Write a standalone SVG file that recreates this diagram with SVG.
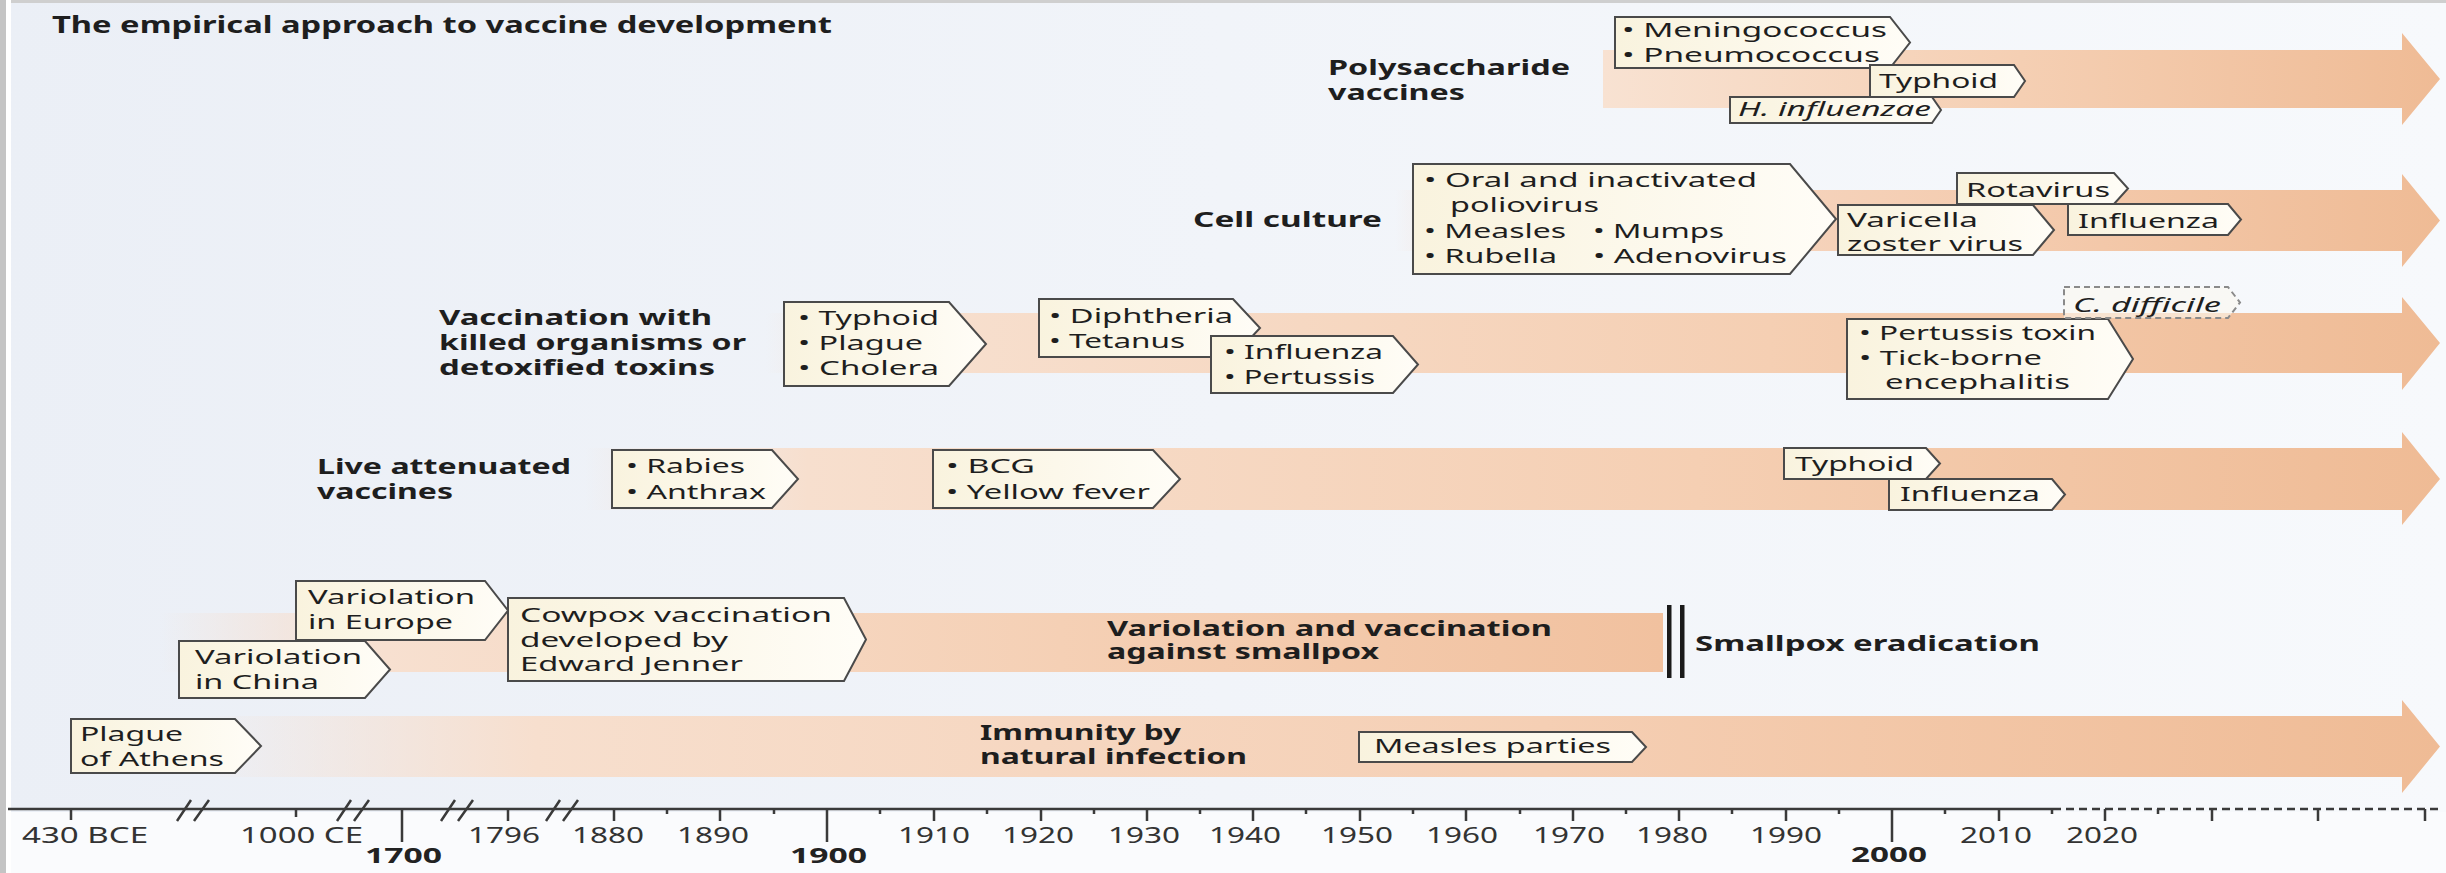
<svg xmlns="http://www.w3.org/2000/svg" width="2446" height="873" viewBox="0 0 2446 873">
<defs>
<linearGradient id="bg" x1="0" y1="0" x2="2446" y2="0" gradientUnits="userSpaceOnUse">
<stop offset="0" stop-color="#ebeff6"/><stop offset="1" stop-color="#f7f9fc"/>
</linearGradient>
<linearGradient id="boxg" x1="0" y1="0" x2="1" y2="0">
<stop offset="0" stop-color="#f9f3de"/><stop offset="1" stop-color="#fffdf7"/>
</linearGradient>
<linearGradient id="b1" x1="200" y1="0" x2="2440" y2="0" gradientUnits="userSpaceOnUse">
<stop offset="0" stop-color="#f6dccb" stop-opacity="0"/><stop offset="0.15" stop-color="#f7dfce"/><stop offset="0.6" stop-color="#f5cfb4"/><stop offset="1" stop-color="#efbb95"/>
</linearGradient>
<linearGradient id="b2" x1="160" y1="0" x2="1663" y2="0" gradientUnits="userSpaceOnUse">
<stop offset="0" stop-color="#f6dccb" stop-opacity="0"/><stop offset="0.15" stop-color="#f7e0d0"/><stop offset="0.6" stop-color="#f5d0b5"/><stop offset="1" stop-color="#f1c19f"/>
</linearGradient>
<linearGradient id="b3" x1="585" y1="0" x2="2440" y2="0" gradientUnits="userSpaceOnUse">
<stop offset="0" stop-color="#f6dccb" stop-opacity="0"/><stop offset="0.12" stop-color="#f7dfce"/><stop offset="0.6" stop-color="#f5cfb3"/><stop offset="1" stop-color="#efbb95"/>
</linearGradient>
<linearGradient id="b4" x1="766" y1="0" x2="2440" y2="0" gradientUnits="userSpaceOnUse">
<stop offset="0" stop-color="#f6dccb" stop-opacity="0"/><stop offset="0.1" stop-color="#f7dfce"/><stop offset="0.6" stop-color="#f5cfb3"/><stop offset="1" stop-color="#efbb95"/>
</linearGradient>
<linearGradient id="b5" x1="1395" y1="0" x2="2440" y2="0" gradientUnits="userSpaceOnUse">
<stop offset="0" stop-color="#f6dccb" stop-opacity="0"/><stop offset="0.12" stop-color="#f7dccb"/><stop offset="0.6" stop-color="#f4cbae"/><stop offset="1" stop-color="#efbb95"/>
</linearGradient>
<linearGradient id="b6" x1="1603" y1="0" x2="2440" y2="0" gradientUnits="userSpaceOnUse">
<stop offset="0" stop-color="#f8e2d2"/><stop offset="0.5" stop-color="#f5cfb3"/><stop offset="1" stop-color="#efbb95"/>
</linearGradient>
<style>
text{font-family:"Noto Sans","Open Sans","DejaVu Sans",sans-serif;fill:#1e1e1e}
.t{font-size:20px}
.b{font-size:21px;font-weight:bold}
.i{font-size:20px;font-style:italic}
.ax{font-size:21px;fill:#333}
.axb{font-size:21px;font-weight:bold;fill:#222}
.box{fill:url(#boxg);stroke:#4a4a4a;stroke-width:2}
.dbox{fill:#fbf8f0;fill-opacity:0.6;stroke:#8a8a8a;stroke-width:2;stroke-dasharray:6 4}
.axis{stroke:#3a3a3a;stroke-width:2.5;fill:none}
</style>
</defs>

<rect x="0" y="0" width="2446" height="873" fill="url(#bg)"/>
<rect x="0" y="812" width="2446" height="61" fill="#fafbfd"/>
<rect x="0" y="0" width="2446" height="3" fill="#cfcfcf"/>
<rect x="0" y="0" width="6" height="873" fill="#c4c4c4"/>
<rect x="6" y="0" width="5" height="873" fill="#ffffff"/>

<text x="52" y="33" font-size="23" font-weight="bold" textLength="780" lengthAdjust="spacingAndGlyphs">The empirical approach to vaccine development</text>

<g id="bands">
<path d="M1603 50 H2402 V33 L2440 79 L2402 125 V108 H1603 Z" fill="url(#b6)"/>
<path d="M1395 190 H2402 V174 L2440 220.5 L2402 267 V251 H1395 Z" fill="url(#b5)"/>
<path d="M766 313 H2402 V297 L2440 343 L2402 390 V373 H766 Z" fill="url(#b4)"/>
<path d="M585 448 H2402 V432 L2440 479 L2402 525 V510 H585 Z" fill="url(#b3)"/>
<path d="M160 613 H1663 V672 H160 Z" fill="url(#b2)"/>
<path d="M200 716 H2402 V700 L2440 746.5 L2402 793 V777 H200 Z" fill="url(#b1)"/>
<rect x="1667" y="605" width="4.5" height="73" fill="#1a1a1a"/>
<rect x="1680" y="605" width="4.5" height="73" fill="#1a1a1a"/>
</g>

<g id="row6">
<text class="b" x="1328" y="75" textLength="242" lengthAdjust="spacingAndGlyphs">Polysaccharide</text>
<text class="b" x="1328" y="100" textLength="137" lengthAdjust="spacingAndGlyphs">vaccines</text>
<g id="meningo">
<polygon class="box" points="1615,17 1890,17 1910,42.5 1890,68 1615,68"/>
<text class="t" x="1622" y="37" textLength="265" lengthAdjust="spacingAndGlyphs">• Meningococcus</text>
<text class="t" x="1622" y="62" textLength="258" lengthAdjust="spacingAndGlyphs">• Pneumococcus</text>
</g>
<g id="typhoid6">
<polygon class="box" points="1870,65 2014,65 2025,81 2014,97 1870,97"/>
<text class="t" x="1879" y="88" textLength="119" lengthAdjust="spacingAndGlyphs">Typhoid</text>
</g>
<g id="hinfl">
<polygon class="box" points="1730,97 1932,97 1941,110 1932,123 1730,123"/>
<text class="i" x="1738" y="116" textLength="193" lengthAdjust="spacingAndGlyphs">H. influenzae</text>
</g>
</g>

<g id="row5">
<text class="b" x="1193" y="227" textLength="189" lengthAdjust="spacingAndGlyphs">Cell culture</text>
<g id="oral">
<polygon class="box" points="1413,164 1790,164 1836,219 1790,274 1413,274"/>
<text class="t" x="1424" y="187" textLength="333" lengthAdjust="spacingAndGlyphs">• Oral and inactivated</text>
<text class="t" x="1450" y="212" textLength="149" lengthAdjust="spacingAndGlyphs">poliovirus</text>
<text class="t" x="1424" y="238" textLength="142" lengthAdjust="spacingAndGlyphs">• Measles</text>
<text class="t" x="1593" y="238" textLength="131" lengthAdjust="spacingAndGlyphs">• Mumps</text>
<text class="t" x="1424" y="263" textLength="133" lengthAdjust="spacingAndGlyphs">• Rubella</text>
<text class="t" x="1593" y="263" textLength="194" lengthAdjust="spacingAndGlyphs">• Adenovirus</text>
</g>
<g id="rotavirus">
<polygon class="box" points="1957,173 2114,173 2128,188.5 2114,204 1957,204"/>
<text class="t" x="1966" y="197" textLength="144" lengthAdjust="spacingAndGlyphs">Rotavirus</text>
</g>
<g id="varicella">
<polygon class="box" points="1838,205 2033,205 2054,230 2033,255 1838,255"/>
<text class="t" x="1847" y="227" textLength="131" lengthAdjust="spacingAndGlyphs">Varicella</text>
<text class="t" x="1847" y="251" textLength="176" lengthAdjust="spacingAndGlyphs">zoster virus</text>
</g>
<g id="influenza5">
<polygon class="box" points="2068,204 2228,204 2241,219.5 2228,235 2068,235"/>
<text class="t" x="2078" y="228" textLength="141" lengthAdjust="spacingAndGlyphs">Influenza</text>
</g>
</g>

<g id="row4">
<text class="b" x="439" y="325" textLength="273" lengthAdjust="spacingAndGlyphs">Vaccination with</text>
<text class="b" x="439" y="350" textLength="307" lengthAdjust="spacingAndGlyphs">killed organisms or</text>
<text class="b" x="439" y="375" textLength="276" lengthAdjust="spacingAndGlyphs">detoxified toxins</text>
<g id="typhoid4">
<polygon class="box" points="784,302 949,302 986,344 949,386 784,386"/>
<text class="t" x="798" y="325" textLength="141" lengthAdjust="spacingAndGlyphs">• Typhoid</text>
<text class="t" x="798" y="350" textLength="125" lengthAdjust="spacingAndGlyphs">• Plague</text>
<text class="t" x="798" y="375" textLength="141" lengthAdjust="spacingAndGlyphs">• Cholera</text>
</g>
<g id="diphtheria">
<polygon class="box" points="1039,299 1233,299 1260,328 1233,357 1039,357"/>
<text class="t" x="1049" y="323" textLength="184" lengthAdjust="spacingAndGlyphs">• Diphtheria</text>
<text class="t" x="1049" y="348" textLength="136" lengthAdjust="spacingAndGlyphs">• Tetanus</text>
</g>
<g id="influenza4">
<polygon class="box" points="1211,336 1393,336 1418,364.5 1393,393 1211,393"/>
<text class="t" x="1224" y="359" textLength="159" lengthAdjust="spacingAndGlyphs">• Influenza</text>
<text class="t" x="1224" y="384" textLength="151" lengthAdjust="spacingAndGlyphs">• Pertussis</text>
</g>
<g id="pertussistoxin">
<polygon class="box" points="1847,319 2108,319 2133,359 2108,399 1847,399"/>
<text class="t" x="1859" y="340" textLength="237" lengthAdjust="spacingAndGlyphs">• Pertussis toxin</text>
<text class="t" x="1859" y="365" textLength="183" lengthAdjust="spacingAndGlyphs">• Tick-borne</text>
<text class="t" x="1885" y="389" textLength="185" lengthAdjust="spacingAndGlyphs">encephalitis</text>
</g>
<g id="cdifficile">
<polygon class="dbox" points="2064,287 2228,287 2240,302.5 2228,318 2064,318"/>
<text class="i" x="2073" y="312" textLength="148" lengthAdjust="spacingAndGlyphs">C. difficile</text>
</g>
</g>

<g id="row3">
<text class="b" x="317" y="474" textLength="254" lengthAdjust="spacingAndGlyphs">Live attenuated</text>
<text class="b" x="317" y="499" textLength="136" lengthAdjust="spacingAndGlyphs">vaccines</text>
<g id="rabies">
<polygon class="box" points="612,450 772,450 798,479 772,508 612,508"/>
<text class="t" x="626" y="473" textLength="119" lengthAdjust="spacingAndGlyphs">• Rabies</text>
<text class="t" x="626" y="499" textLength="140" lengthAdjust="spacingAndGlyphs">• Anthrax</text>
</g>
<g id="bcg">
<polygon class="box" points="933,450 1153,450 1180,479 1153,508 933,508"/>
<text class="t" x="946" y="473" textLength="89" lengthAdjust="spacingAndGlyphs">• BCG</text>
<text class="t" x="946" y="499" textLength="204" lengthAdjust="spacingAndGlyphs">• Yellow fever</text>
</g>
<g id="typhoid3">
<polygon class="box" points="1784,448 1926,448 1940,463.5 1926,479 1784,479"/>
<text class="t" x="1795" y="471" textLength="119" lengthAdjust="spacingAndGlyphs">Typhoid</text>
</g>
<g id="influenza3">
<polygon class="box" points="1889,479 2052,479 2065,494.5 2052,510 1889,510"/>
<text class="t" x="1900" y="501" textLength="140" lengthAdjust="spacingAndGlyphs">Influenza</text>
</g>
</g>

<g id="row2">
<text class="b" x="1107" y="636" textLength="445" lengthAdjust="spacingAndGlyphs">Variolation and vaccination</text>
<text class="b" x="1107" y="659" textLength="272" lengthAdjust="spacingAndGlyphs">against smallpox</text>
<text class="b" x="1695" y="651" textLength="345" lengthAdjust="spacingAndGlyphs">Smallpox eradication</text>
<g id="china">
<polygon class="box" points="179,641 365,641 390,669.5 365,698 179,698"/>
<text class="t" x="195" y="664" textLength="167" lengthAdjust="spacingAndGlyphs">Variolation</text>
<text class="t" x="195" y="689" textLength="124" lengthAdjust="spacingAndGlyphs">in China</text>
</g>
<g id="europe">
<polygon class="box" points="296,581 485,581 508,610.5 485,640 296,640"/>
<text class="t" x="308" y="604" textLength="167" lengthAdjust="spacingAndGlyphs">Variolation</text>
<text class="t" x="308" y="629" textLength="145" lengthAdjust="spacingAndGlyphs">in Europe</text>
</g>
<g id="cowpox">
<polygon class="box" points="508,598 844,598 866,639.5 844,681 508,681"/>
<text class="t" x="520" y="622" textLength="312" lengthAdjust="spacingAndGlyphs">Cowpox vaccination</text>
<text class="t" x="520" y="647" textLength="208" lengthAdjust="spacingAndGlyphs">developed by</text>
<text class="t" x="520" y="671" textLength="223" lengthAdjust="spacingAndGlyphs">Edward Jenner</text>
</g>
</g>

<g id="row1">
<g id="plague">
<polygon class="box" points="71,719 235,719 261,746 235,773 71,773"/>
<text class="t" x="80" y="741" textLength="103" lengthAdjust="spacingAndGlyphs">Plague</text>
<text class="t" x="80" y="766" textLength="144" lengthAdjust="spacingAndGlyphs">of Athens</text>
</g>
<text class="b" x="980" y="740" textLength="201" lengthAdjust="spacingAndGlyphs">Immunity by</text>
<text class="b" x="980" y="764" textLength="267" lengthAdjust="spacingAndGlyphs">natural infection</text>
<g id="measles">
<polygon class="box" points="1359,732 1632,732 1646,747 1632,762 1359,762"/>
<text class="t" x="1374" y="753" textLength="237" lengthAdjust="spacingAndGlyphs">Measles parties</text>
</g>
</g>

<g id="axis">
<line class="axis" x1="8" y1="809" x2="2053" y2="809"/>
<line class="axis" x1="2053" y1="809" x2="2440" y2="809" stroke-dasharray="8 5"/>
<path class="axis" d="M71 809V820 M296 809V817 M508 809V821 M614 809V821 M720 809V821 M934 809V821 M1041 809V821 M1147 809V821 M1253 809V821 M1360 809V821 M1466 809V821 M1573 809V821 M1679 809V821 M1786 809V821 M1999 809V821 M2105 809V821 M2212 809V821 M2318 809V821 M2425 809V821"/>
<path class="axis" d="M402 809V842 M827 809V842 M1892 809V842"/>
<path class="axis" stroke-width="2" d="M667 809V814 M774 809V814 M880 809V814 M987 809V814 M1094 809V814 M1200 809V814 M1306 809V814 M1413 809V814 M1520 809V814 M1626 809V814 M1732 809V814 M1839 809V814 M1945 809V814 M2052 809V814 M2158 809V814"/>
<path class="axis" d="M177 821L191 800 M194 821L209 800 M337 821L351 800 M354 821L369 800 M441 821L455 800 M458 821L473 800 M546 821L560 800 M563 821L578 800"/>
<text class="ax" x="22" y="843" textLength="126" lengthAdjust="spacingAndGlyphs">430 BCE</text>
<text class="ax" x="240" y="843" textLength="123" lengthAdjust="spacingAndGlyphs">1000 CE</text>
<text class="axb" x="365" y="863" textLength="77" lengthAdjust="spacingAndGlyphs">1700</text>
<text class="ax" x="468" y="843" textLength="72" lengthAdjust="spacingAndGlyphs">1796</text>
<text class="ax" x="572" y="843" textLength="72" lengthAdjust="spacingAndGlyphs">1880</text>
<text class="ax" x="677" y="843" textLength="72" lengthAdjust="spacingAndGlyphs">1890</text>
<text class="axb" x="790" y="863" textLength="77" lengthAdjust="spacingAndGlyphs">1900</text>
<text class="ax" x="898" y="843" textLength="72" lengthAdjust="spacingAndGlyphs">1910</text>
<text class="ax" x="1002" y="843" textLength="72" lengthAdjust="spacingAndGlyphs">1920</text>
<text class="ax" x="1108" y="843" textLength="72" lengthAdjust="spacingAndGlyphs">1930</text>
<text class="ax" x="1209" y="843" textLength="72" lengthAdjust="spacingAndGlyphs">1940</text>
<text class="ax" x="1321" y="843" textLength="72" lengthAdjust="spacingAndGlyphs">1950</text>
<text class="ax" x="1426" y="843" textLength="72" lengthAdjust="spacingAndGlyphs">1960</text>
<text class="ax" x="1533" y="843" textLength="72" lengthAdjust="spacingAndGlyphs">1970</text>
<text class="ax" x="1636" y="843" textLength="72" lengthAdjust="spacingAndGlyphs">1980</text>
<text class="ax" x="1750" y="843" textLength="72" lengthAdjust="spacingAndGlyphs">1990</text>
<text class="axb" x="1851" y="862" textLength="76" lengthAdjust="spacingAndGlyphs">2000</text>
<text class="ax" x="1960" y="843" textLength="72" lengthAdjust="spacingAndGlyphs">2010</text>
<text class="ax" x="2066" y="843" textLength="72" lengthAdjust="spacingAndGlyphs">2020</text>
</g>
</svg>
